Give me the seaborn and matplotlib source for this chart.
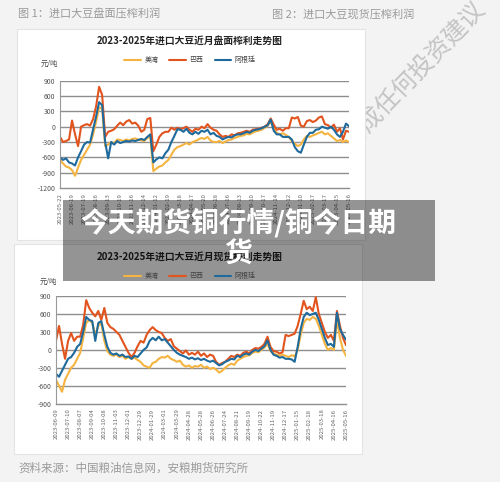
import numpy as np
import pandas as pd
import matplotlib
matplotlib.use("Agg")
import matplotlib.pyplot as plt
from matplotlib.patches import Rectangle
from matplotlib.lines import Line2D
import seaborn as sns

# ---------------- data ----------------
series_names = ["美湾", "巴西", "阿根廷"]
series_colors = ["#F5B440", "#E2541E", "#1F6A9C"]

top_title = "2023-2025年进口大豆近月盘面榨利走势图"
bot_title = "2023-2025年进口大豆近月现货榨利走势图"

top_dates = ["2023-05-22", "2023-06-19", "2023-07-19", "2023-08-16", "2023-09-13",
             "2023-10-19", "2023-11-16", "2023-12-14", "2024-01-12", "2024-02-19",
             "2024-03-18", "2024-04-17", "2024-05-20", "2024-06-18", "2024-07-16",
             "2024-08-13", "2024-09-10", "2024-10-17", "2024-11-14", "2024-12-12",
             "2025-01-10", "2025-02-17", "2025-03-17", "2025-04-15", "2025-05-16"]
bot_dates = ["2023-06-09", "2023-07-10", "2023-08-07", "2023-09-04", "2023-10-08",
             "2023-11-03", "2023-12-01", "2023-12-29", "2024-01-29", "2024-03-01",
             "2024-03-29", "2024-04-28", "2024-05-28", "2024-06-26", "2024-07-24",
             "2024-08-21", "2024-09-19", "2024-10-22", "2024-11-19", "2024-12-17",
             "2025-01-15", "2025-02-18", "2025-03-18", "2025-04-16", "2025-05-16"]

# quarter-interval samples between date ticks (97 points each)
top_gulf = [-650, -720, -780, -800,  -850, -960, -800, -650,  -550, -450, -350, -150,
            100, 380, 360, -380,  -350, -300, -320, -250,  -260, -280, -250, -270,
            -240, -230, -250, -270,  -280, -220, -200, -870,  -820, -780, -760, -700,
            -650, -550, -450, -400,  -380, -350, -320, -350,  -300, -280, -250, -220,
            -240, -200, -270, -300,  -300, -280, -320, -290,  -260, -250, -220, -200,
            -180, -170, -140, -150,  -120, -90, -80, -60,  -20, 20, 100, -30,
            -120, -150, -130, -160,  -200, -280, -330, -380,  -350, -250, -180, -200,
            -170, -150, -120, -100,  -150, -130, -180, -230,  -280, -260, -300, -270,
            -300]
top_brazil = [-200, -300, -280, -250,  120, -150, -380, 0,  30, 50, 20, 150,
              400, 780, 620, -200,  -100, -80, -50, 20,  80, 30, 100, 130,
              60, 80, 20, -100,  -60, 150, 170, -480,  -350, -200, -130, -100,
              -100, -20, -60, -20,  -50, -30, 0, -60,  -100, -40, -60, 0,
              -30, 50, -20, -60,  -80, -150, -200, -180,  -200, -150, -170, -130,
              -120, -100, -80, -100,  -60, -50, -40, -20,  0, 50, 160, 40,
              -60, -40, -80, -30,  -30, 180, 160, 190,  20, 0, 110, 130,
              90, 120, 180, 200,  50, 30, -20, 40,  -100, -30, -250, -80,
              -100]
top_argentina = [-600, -650, -620, -700,  -720, -760, -600, -480,  -350, -300, -310, -50,
                 200, 480, 420, -300,  -620, -300, -350, -280,  -320, -300, -280, -290,
                 -270, -280, -260, -240,  -260, -200, -150, -700,  -640, -600, -620, -520,
                 -450, -300, -180, -50,  -60, -100, -40, -120,  -150, -100, -140, -80,
                 -100, -60, -150, -120,  -180, -200, -250, -220,  -200, -210, -170, -150,
                 -150, -130, -100, -120,  -80, -60, -50, -30,  0, 30, 140, -80,
                 -150, -150, -200, -200,  -200, -250, -400, -480,  -510, -350, -200, -120,
                 -120, -60, -50, 0,  -20, -40, 0, -60,  -150, -200, -100, 60,
                 10]

bot_gulf = [-500, -600, -700, -500,  -400, -300, -250, -150,  -50, 200, 450, 500,
            450, 250, 400, 450,  150, -20, -80, -100,  -80, -120, -100, -150,
            -120, -150, -130, -170,  -200, -260, -280, -300,  -220, -200, -150, -120,
            -130, -100, -150, -170,  -200, -180, -250, -280,  -260, -300, -270, -280,
            -250, -300, -280, -320,  -300, -330, -380, -350,  -300, -260, -230, -250,
            -180, -150, -120, -100,  -90, -50, -30, -40,  0, 40, 100, -20,
            -60, -80, -100, -80,  -100, -120, -90, -110,  0, 250, 450, 520,
            500, 550, 520, 400,  250, 100, 0, 30,  0, 500, 200, 0,
            -100]
bot_brazil = [150, 400, 100, -150,  150, 280, 150, 220,  220, 420, 830, 700,
              620, 560, 650, 500,  700, 450, 380, 350,  300, 250, 150, 50,
              -50, -120, -50, 60,  150, 120, 250, 330,  380, 330, 300, 280,
              200, 150, 180, 60,  20, -20, -60, -10,  -80, -50, -80, -30,
              -100, -60, -120, -80,  -100, -200, -250, -220,  -200, -150, -100, -120,
              -80, -100, -50, -30,  -60, 0, 30, 20,  50, 100, 220, 50,
              -20, -30, -60, -40,  250, 230, 250, 270,  400, 600, 820, 680,
              720, 650, 880, 600,  450, 300, 200, 250,  150, 650, 400, 200,
              80]
bot_argentina = [-400, -450, -350, -250,  -150, -120, -50, 50,  100, 300, 550, 500,
                 480, 150, 450, 480,  250, 50, -50, -80,  -60, -100, -80, -120,
                 -110, -150, -100, -120,  -60, 0, 40, 150,  200, 160, 220, 160,
                 180, 120, 60, 0,  -50, -80, -100, -120,  -150, -130, -160, -140,
                 -170, -150, -180, -200,  -180, -220, -260, -240,  -200, -180, -150, -160,
                 -100, -120, -80, -60,  -80, -30, 0, -20,  20, 60, 160, 0,
                 -80, -100, -130, -120,  -150, -150, -160, -200,  50, 350, 550, 620,
                 580, 600, 620, 500,  350, 200, 80, 100,  50, 620, 350, 250,
                 170]

top_yticks = [900, 600, 300, 0, -300, -600, -900, -1200]
bot_yticks = [900, 600, 300, 0, -300, -600, -900]

# ---------------- figure ----------------
sns.set_style("white")
plt.rcParams['font.family'] = ['Noto Sans CJK SC', 'DejaVu Sans']

W, H = 500, 482
fig = plt.figure(figsize=(W / 100, H / 100), dpi=100)
fig.patch.set_facecolor("#F3F3F3")


def fx(px):
    return px / W


def fy(py):
    return 1 - py / H


# white panels
for (x0, y0, x1, y1) in [(17, 29, 365, 240), (14, 244, 362, 454)]:
    fig.add_artist(Rectangle((fx(x0), fy(y1)), fx(x1) - fx(x0), fy(y0) - fy(y1),
                             transform=fig.transFigure, facecolor="white",
                             edgecolor="#E4E4E4", linewidth=0.8, zorder=-1))

# watermark (behind panels)
fig.text(fx(481), fy(6), "本报告不构成任何投资建议", rotation=46, rotation_mode="anchor",
         ha="right", va="center", fontsize=17.5, color="#C4C4C4", zorder=-2)

# headings & source
fig.text(fx(18), fy(14), "图 1：进口大豆盘面压榨利润", fontsize=8, color="#9A9A9A",
         ha="left", va="center")
fig.text(fx(272), fy(14), "图 2：进口大豆现货压榨利润", fontsize=8, color="#9A9A9A",
         ha="left", va="center")
fig.text(fx(18), fy(468), "资料来源：中国粮油信息网，安粮期货研究所", fontsize=8.3,
         color="#9A9A9A", ha="left", va="center")


def draw_chart(rect, dates, gulf, brazil, argentina, yticks, ylim, title, title_y,
               legend_y, unit_xy):
    ax = fig.add_axes(rect)
    ax.set_facecolor("none")
    n = len(gulf)
    t = np.arange(n) / 4.0
    df = pd.DataFrame({
        "t": np.concatenate([t, t, t]),
        "value": np.concatenate([gulf, brazil, argentina]),
        "series": [series_names[0]] * n + [series_names[1]] * n + [series_names[2]] * n,
    })
    sns.lineplot(data=df, x="t", y="value", hue="series", hue_order=series_names,
                 palette=series_colors, linewidth=1.5, legend=False, ax=ax)
    ax.set_xlim(0, len(dates) - 1)
    ax.set_ylim(*ylim)
    ax.set_yticks(yticks)
    ax.set_yticklabels([str(v) for v in yticks], fontsize=5, color="#555555")
    ax.set_xticks(range(len(dates)))
    ax.set_xticklabels(dates, rotation=90, fontsize=4.3, color="#666666")
    ax.set_xlabel("")
    ax.set_ylabel("")
    for v in yticks:
        if v != ylim[0]:
            ax.axhline(v, color="#8E8E8E", linewidth=1.0, zorder=0)
    for s in ["top", "right"]:
        ax.spines[s].set_visible(False)
    ax.spines["left"].set_color("#9A9A9A")
    ax.spines["bottom"].set_color("#8E8E8E")
    ax.spines["left"].set_linewidth(0.8)
    ax.spines["bottom"].set_linewidth(1.0)
    ax.tick_params(axis="x", length=2, width=0.6, color="#8E8E8E", pad=1.5)
    ax.tick_params(axis="y", length=2, width=0.6, color="#9A9A9A", pad=1.5)
    fig.text(fx(190), fy(title_y), title, fontsize=7, fontweight="bold",
             color="#222222", ha="center", va="center")
    handles = [Line2D([], [], color=c, linewidth=1.5) for c in series_colors]
    fig.legend(handles, series_names, loc="center", bbox_to_anchor=(fx(190), fy(legend_y)),
               ncol=3, frameon=False, fontsize=5, handlelength=2.4, columnspacing=1.6,
               handletextpad=0.5, labelcolor="#444444")
    fig.text(fx(unit_xy[0]), fy(unit_xy[1]), "元/吨", fontsize=5.2, color="#444444",
             ha="left", va="center")
    return ax


draw_chart([fx(60), fy(188), fx(349) - fx(60), fy(80.7) - fy(188)], top_dates,
           top_gulf, top_brazil, top_argentina, top_yticks, (-1200, 900),
           top_title, 41, 60, (41, 64))
draw_chart([fx(56), fy(403.7), fx(346) - fx(56), fy(296) - fy(403.7)], bot_dates,
           bot_gulf, bot_brazil, bot_argentina, bot_yticks, (-900, 900),
           bot_title, 257, 276, (40, 282))

# overlay banner
fig.add_artist(Rectangle((fx(63), fy(281)), fx(435) - fx(63), fy(200) - fy(281),
                         transform=fig.transFigure, facecolor="black", alpha=0.42,
                         edgecolor="none", zorder=5))
fig.text(fx(238), fy(238), "今天期货铜行情/铜今日期\n货", fontsize=20,
         fontweight="bold", color="white", ha="center", va="center",
         linespacing=1.15, zorder=6)

fig.savefig("out.png", dpi=100, facecolor=fig.get_facecolor())
